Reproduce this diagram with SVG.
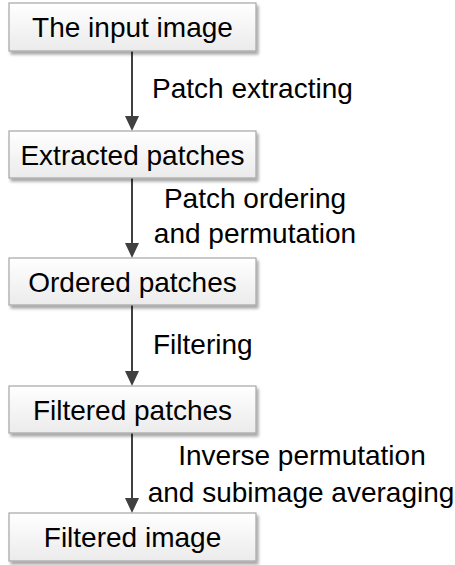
<svg xmlns="http://www.w3.org/2000/svg" width="455" height="565" viewBox="0 0 455 565">
<defs>
<linearGradient id="g" x1="0" y1="0" x2="0" y2="1">
<stop offset="0" stop-color="#ffffff"/>
<stop offset="1" stop-color="#ebebeb"/>
</linearGradient>
<filter id="sh" x="-10%" y="-20%" width="130%" height="160%">
<feGaussianBlur in="SourceAlpha" stdDeviation="1.5"/>
<feOffset dx="2" dy="2.5" result="b"/>
<feComponentTransfer><feFuncA type="linear" slope="0.35"/></feComponentTransfer>
<feMerge><feMergeNode/><feMergeNode in="SourceGraphic"/></feMerge>
</filter>
<marker id="ah" viewBox="0 0 14 15" refX="7" refY="15" markerWidth="14" markerHeight="15" markerUnits="userSpaceOnUse" orient="auto-start-reverse">
<path d="M0,0 L14,0 L7,15 Z" fill="#404040"/>
</marker>
</defs>
<style>
.box{fill:url(#g);stroke:#a6a6a6;stroke-width:1.2;filter:url(#sh)}
.t{font-family:"Liberation Sans",Arial,sans-serif;font-size:28px;fill:#000}
.c{text-anchor:middle}
.conn{stroke:#404040;stroke-width:2;fill:none}
</style>
<rect width="455" height="565" fill="#fff"/>
<g id="connectors">
<line class="conn" x1="132" y1="51" x2="132" y2="116" />
<path d="M125,116 L139,116 L132,131 Z" fill="#404040"/>
<line class="conn" x1="132" y1="178" x2="132" y2="243" />
<path d="M125,243 L139,243 L132,258 Z" fill="#404040"/>
<line class="conn" x1="132" y1="305" x2="132" y2="371" />
<path d="M125,371 L139,371 L132,386 Z" fill="#404040"/>
<line class="conn" x1="132" y1="433" x2="132" y2="498" />
<path d="M125,498 L139,498 L132,513 Z" fill="#404040"/>
<text class="t" x="152" y="98">Patch extracting</text>
<text class="t c" x="255" y="208">Patch ordering</text>
<text class="t c" x="255" y="243">and permutation</text>
<text class="t" x="153" y="354">Filtering</text>
<text class="t c" x="302" y="465">Inverse permutation</text>
<text class="t c" x="301" y="502">and subimage averaging</text>
</g>
<g id="node1">
<rect class="box" x="9" y="3" width="247" height="48"/>
<text class="t c" x="132.5" y="37">The input image</text>
</g>
<g id="node2">
<rect class="box" x="9" y="131" width="247" height="47"/>
<text class="t c" x="132.5" y="165">Extracted patches</text>
</g>
<g id="node3">
<rect class="box" x="9" y="258" width="247" height="47"/>
<text class="t c" x="132.5" y="292">Ordered patches</text>
</g>
<g id="node4">
<rect class="box" x="9" y="386" width="247" height="47"/>
<text class="t c" x="132.5" y="420">Filtered patches</text>
</g>
<g id="node5">
<rect class="box" x="9" y="513" width="247" height="48"/>
<text class="t c" x="132.5" y="547">Filtered image</text>
</g>
</svg>
